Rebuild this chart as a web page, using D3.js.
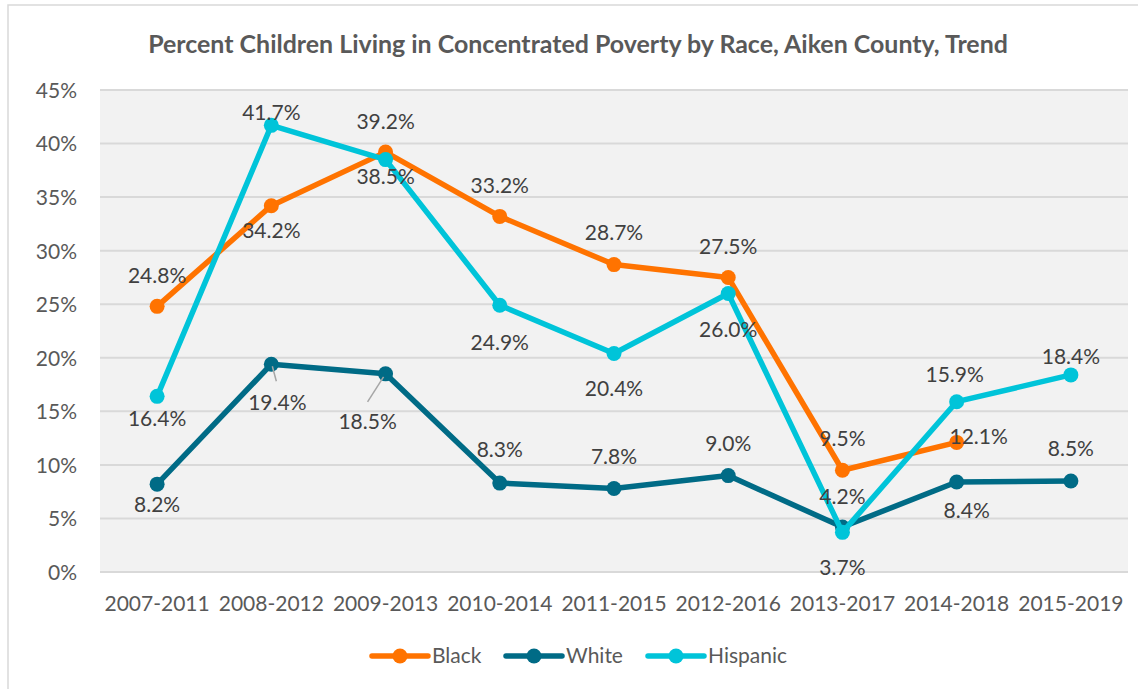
<!DOCTYPE html>
<html>
<head>
<meta charset="utf-8">
<script src="https://cdn.jsdelivr.net/npm/d3@7"></script>
<style>
html,body{margin:0;padding:0;background:#fff;}
svg{display:block;font-family:Lato,"Open Sans",sans-serif;}
</style>
</head>
<body>
<svg id="chart" width="1138" height="689"></svg>
<script>
const title = "Percent Children Living in Concentrated Poverty by Race, Aiken County, Trend";
const categories = ["2007-2011","2008-2012","2009-2013","2010-2014","2011-2015","2012-2016","2013-2017","2014-2018","2015-2019"];
const seriesNames = ["Black","White","Hispanic"];
const black    = [24.8, 34.2, 39.2, 33.2, 28.7, 27.5, 9.5, 12.1, null];
const white    = [8.2, 19.4, 18.5, 8.3, 7.8, 9.0, 4.2, 8.4, 8.5];
const hispanic = [16.4, 41.7, 38.5, 24.9, 20.4, 26.0, 3.7, 15.9, 18.4];
const yTicks   = [0, 5, 10, 15, 20, 25, 30, 35, 40, 45];

// label placement (layout only): [dx, dy] of label centre from the marker
const blackLabelOff    = [[0,-31],[0,25],[0,-30],[0,-31],[0,-32],[0,-31],[0,-32],[22,-6],null];
const whiteLabelOff    = [[0,20],[6,38],[-18,48],[0,-33],[0,-32],[0,-32],[0,-30],[10,29],[0,-32]];
const hispanicLabelOff = [[0,22],[0,-13],[0,17],[0,37],[0,35],[0,36],[0,35],[-2,-27],[0,-18]];
// leader lines (layout only): [x1,y1,x2,y2] relative to marker
const whiteLeaders = [null,[1,2,5,17],[-2,3,-18,28],null,null,null,null,null,null];

const colors = {Black:"#FF7300", White:"#006B86", Hispanic:"#00C4D9"};
const series = [
  {name:"Black", values:black, off:blackLabelOff, leaders:null},
  {name:"White", values:white, off:whiteLabelOff, leaders:whiteLeaders},
  {name:"Hispanic", values:hispanic, off:hispanicLabelOff, leaders:null}
];

const FS = 21;
const svg = d3.select("#chart");
const plot = {left:100, right:1128, top:90, bottom:572};

// outer border
svg.append("rect").attr("x",8).attr("y",5).attr("width",1140).attr("height",700)
  .attr("fill","#fff").attr("stroke","#d9d9d9").attr("stroke-width",1.5);

const x = d3.scaleBand().domain(categories).range([plot.left, plot.right]).padding(0);
const cx = d => x(d) + x.bandwidth()/2;
const y = d3.scaleLinear().domain([0,45]).range([plot.bottom, plot.top]);

// plot background
svg.append("rect").attr("x",plot.left).attr("y",plot.top)
  .attr("width",plot.right-plot.left).attr("height",plot.bottom-plot.top).attr("fill","#F2F2F2");

// gridlines
svg.append("g").selectAll("line").data(yTicks).join("line")
  .attr("x1",plot.left).attr("x2",plot.right)
  .attr("y1",d=>y(d)).attr("y2",d=>y(d))
  .attr("stroke","#D9D9D9").attr("stroke-width",2);

// y axis
const yAxis = d3.axisLeft(y).tickValues(yTicks).tickFormat(d=>d+"%").tickSize(0).tickPadding(0);
const ya = svg.append("g").attr("transform",`translate(77,0)`).call(yAxis);
ya.select(".domain").remove();
ya.selectAll("text").attr("font-family","Lato").attr("font-size",FS).attr("fill","#595959").attr("dy","0.35em");

// x axis
const xAxis = d3.axisBottom(x).tickSize(0).tickPadding(0);
const xa = svg.append("g").attr("transform",`translate(0,${plot.bottom})`).call(xAxis);
xa.select(".domain").remove();
xa.selectAll("text").attr("font-family","Lato").attr("font-size",FS).attr("fill","#595959")
  .attr("y",32).attr("dy","0.35em");

// title
const t = svg.append("text").attr("x",578).attr("y",43).attr("text-anchor","middle")
  .attr("dominant-baseline","central")
  .attr("font-family","Lato").attr("font-weight","bold").attr("font-size",22).attr("fill","#595959")
  .text(title);
const tw = t.node().getComputedTextLength();
t.attr("font-size", 22*860/tw);

// lines
const line = d3.line().defined(d=>d.v!==null).x(d=>cx(d.c)).y(d=>y(d.v));
series.forEach(s=>{
  const pts = categories.map((c,i)=>({c, v:s.values[i], i}));
  const g = svg.append("g");
  g.append("path").datum(pts).attr("d",line).attr("fill","none")
    .attr("stroke",colors[s.name]).attr("stroke-width",5.5).attr("stroke-linejoin","round");
  g.selectAll("circle").data(pts.filter(d=>d.v!==null)).join("circle")
    .attr("cx",d=>cx(d.c)).attr("cy",d=>y(d.v)).attr("r",7.5).attr("fill",colors[s.name]);
  s.pts = pts;
});

// leader lines & labels
series.forEach(s=>{
  const g = svg.append("g");
  s.pts.filter(d=>d.v!==null).forEach(d=>{
    const px = cx(d.c), py = y(d.v);
    if (s.leaders && s.leaders[d.i]) {
      const L = s.leaders[d.i];
      g.append("line").attr("x1",px+L[0]).attr("y1",py+L[1]).attr("x2",px+L[2]).attr("y2",py+L[3])
        .attr("stroke","#A6A6A6").attr("stroke-width",1.5);
    }
    const o = s.off[d.i];
    g.append("text").attr("x",px+o[0]).attr("y",py+o[1]).attr("text-anchor","middle")
      .attr("dy","0.35em").attr("font-family","Lato").attr("font-size",FS).attr("fill","#404040")
      .text(d.v.toFixed(1)+"%");
  });
});

// legend
const legendX = [372, 506, 648];
const lg = svg.append("g");
seriesNames.forEach((n,i)=>{
  const lx = legendX[i], ly = 656;
  lg.append("line").attr("x1",lx).attr("x2",lx+56).attr("y1",ly).attr("y2",ly)
    .attr("stroke",colors[n]).attr("stroke-width",5.5).attr("stroke-linecap","round");
  lg.append("circle").attr("cx",lx+28).attr("cy",ly).attr("r",7.5).attr("fill",colors[n]);
  lg.append("text").attr("x",lx+60).attr("y",ly).attr("dy","0.35em")
    .attr("font-family","Lato").attr("font-size",FS).attr("fill","#595959").text(n);
});
</script>
</body>
</html>
